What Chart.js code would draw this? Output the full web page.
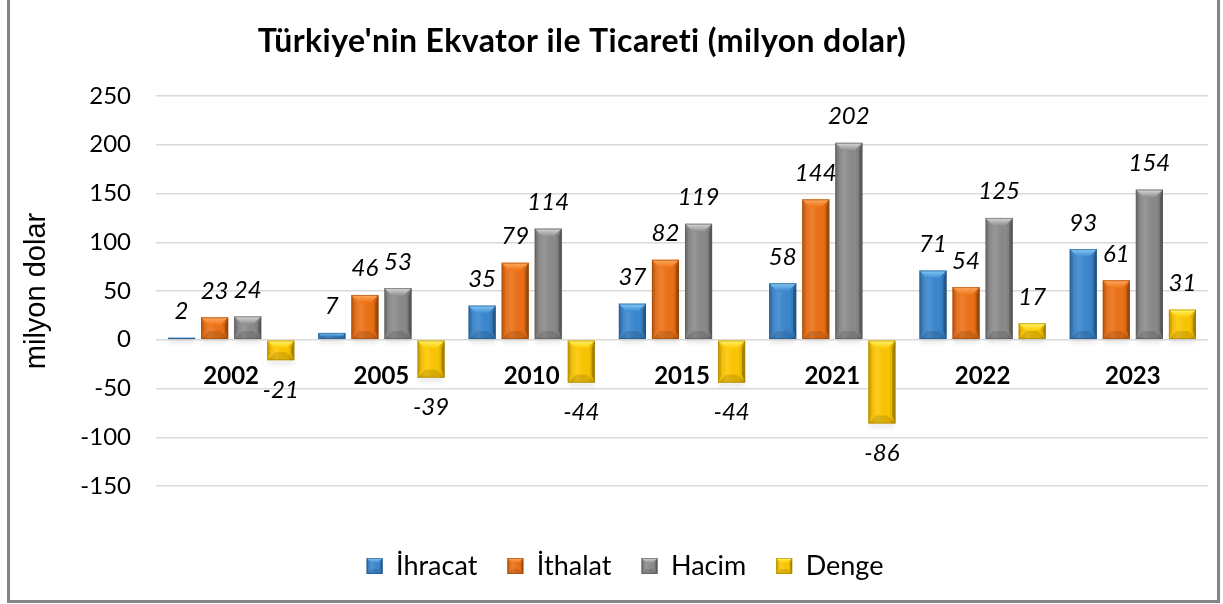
<!DOCTYPE html>
<html><head><meta charset="utf-8">
<script src="https://cdn.jsdelivr.net/npm/chart.js@4.4.1/dist/chart.umd.min.js"></script>
<style>
html,body{margin:0;padding:0;background:#fff;overflow:hidden;width:1223px;height:604px;}
#frame{position:absolute;left:7px;top:-4px;width:1213px;height:607px;box-sizing:border-box;border:3px solid #848484;background:#fff;}
#wrap{position:absolute;left:10px;top:0;width:1207px;height:600px;}
</style></head><body>
<div id="frame"></div>
<div id="wrap"><canvas id="c"></canvas></div>
<script>
const categories = ['2002', '2005', '2010', '2015', '2021', '2022', '2023'];
const ihracat = [2, 7, 35, 37, 58, 71, 93];
const ithalat = [23, 46, 79, 82, 144, 54, 61];
const hacim = [24, 53, 114, 119, 202, 125, 154];
const denge = [-21, -39, -44, -44, -86, 17, 31];
const seriesNames = ['İhracat', 'İthalat', 'Hacim', 'Denge'];
const yMin = -150, yMax = 250, yStep = 50;
const chartTitle = "Türkiye'nin Ekvator ile Ticareti (milyon dolar)";
const yTitle = 'milyon dolar';

const palette = [
  {base: '#3B88D0', light: '#86CCF6', dark: '#1F5486'},
  {base: '#EF7216', light: '#FFAA60', dark: '#9C4606'},
  {base: '#8C8C8C', light: '#DADADA', dark: '#555555'},
  {base: '#FFC800', light: '#FFF56A', dark: '#A88300'}
];
const seriesData = [ihracat, ithalat, hacim, denge];

function drawBevel(ctx, l, t, r, b, pal, maxBv) {
  const h = b - t;
  if (h < 0.5) return;
  const bv = Math.min(maxBv, h / 2, (r - l) / 2);
  ctx.save();
  const g = ctx.createLinearGradient(l, 0, r, 0);
  g.addColorStop(0, 'rgba(0,0,0,0.10)');
  g.addColorStop(0.35, 'rgba(255,255,255,0.10)');
  g.addColorStop(0.75, 'rgba(0,0,0,0.02)');
  g.addColorStop(1, 'rgba(0,0,0,0.22)');
  ctx.fillStyle = g;
  ctx.fillRect(l, t, r - l, h);
  const gt = ctx.createLinearGradient(0, t, 0, t + bv);
  gt.addColorStop(0, pal.light);
  gt.addColorStop(1, pal.base);
  ctx.fillStyle = gt;
  ctx.beginPath();
  ctx.moveTo(l, t); ctx.lineTo(r, t); ctx.lineTo(r - bv, t + bv); ctx.lineTo(l + bv, t + bv); ctx.closePath();
  ctx.fill();
  ctx.fillStyle = 'rgba(0,0,0,0.12)';
  ctx.beginPath();
  ctx.moveTo(l, b); ctx.lineTo(r, b); ctx.lineTo(r - bv, b - bv); ctx.lineTo(l + bv, b - bv); ctx.closePath();
  ctx.fill();
  ctx.fillStyle = 'rgba(0,0,0,0.10)';
  ctx.beginPath();
  ctx.moveTo(l, t); ctx.lineTo(l + bv * 0.4, t + bv); ctx.lineTo(l + bv * 0.4, b - bv); ctx.lineTo(l, b); ctx.closePath();
  ctx.fill();
  ctx.fillStyle = 'rgba(0,0,0,0.22)';
  ctx.beginPath();
  ctx.moveTo(r, t); ctx.lineTo(r - bv * 0.4, t + bv); ctx.lineTo(r - bv * 0.4, b - bv); ctx.lineTo(r, b); ctx.closePath();
  ctx.fill();
  ctx.strokeStyle = pal.dark;
  ctx.globalAlpha = 0.6;
  ctx.lineWidth = 1;
  ctx.strokeRect(l + 0.5, t + 0.5, r - l - 1, h - 1);
  ctx.restore();
}

const bevelPlugin = {
  id: 'bevel',
  afterDatasetsDraw(chart) {
    const ctx = chart.ctx;
    chart.data.datasets.forEach((ds, di) => {
      const meta = chart.getDatasetMeta(di);
      meta.data.forEach((el) => {
        const p = el.getProps(['x', 'y', 'base', 'width'], true);
        drawBevel(ctx, p.x - p.width / 2, Math.min(p.y, p.base), p.x + p.width / 2, Math.max(p.y, p.base), palette[di], 8);
      });
    });
  },
  afterDraw(chart) {
    const lg = chart.legend;
    if (!lg || !lg.legendHitBoxes) return;
    const o = lg.options.labels;
    const fs = o.font.size;
    lg.legendHitBoxes.forEach((hb, i) => {
      const t = hb.top + Math.max((fs - o.boxHeight) / 2, 0);
      drawBevel(chart.ctx, hb.left, t, hb.left + o.boxWidth, t + o.boxHeight, palette[i], 5);
    });
  }
};

const shadowPlugin = {
  id: 'barShadow',
  beforeDatasetsDraw(chart) {
    const ctx = chart.ctx;
    chart.data.datasets.forEach((ds, di) => {
      const meta = chart.getDatasetMeta(di);
      meta.data.forEach((el) => {
        const p = el.getProps(['x', 'y', 'base', 'width'], true);
        const b = Math.max(p.y, p.base);
        ctx.save();
        ctx.fillStyle = 'rgba(0,0,0,0.10)';
        ctx.filter = 'blur(2px)';
        ctx.fillRect(p.x - p.width / 2 + 1, b, p.width - 2, 4);
        ctx.restore();
      });
    });
  }
};

const valueLabelPlugin = {
  id: 'valueLabels',
  afterDatasetsDraw(chart) {
    const ctx = chart.ctx;
    ctx.save();
    ctx.font = 'italic 24px Lato';
    ctx.fillStyle = '#000';
    ctx.textAlign = 'center';
    ctx.textBaseline = 'alphabetic';
    chart.data.datasets.forEach((ds, di) => {
      const meta = chart.getDatasetMeta(di);
      meta.data.forEach((el, i) => {
        const v = ds.data[i];
        const p = el.getProps(['x', 'y', 'base'], true);
        const t = Math.min(p.y, p.base), b = Math.max(p.y, p.base);
        const yy = v >= 0 ? t - 18.5 : b + 37.5;
        ctx.fillText(String(v), p.x, yy);
      });
    });
    ctx.restore();
  }
};

const titlePlugin = {
  id: 'customTitle',
  afterDraw(chart) {
    const ctx = chart.ctx;
    ctx.save();
    ctx.font = 'bold 32px Lato';
    if ('letterSpacing' in ctx) ctx.letterSpacing = '0.4px';
    ctx.fillStyle = '#000';
    ctx.textAlign = 'center';
    ctx.textBaseline = 'middle';
    ctx.fillText(chartTitle, 572, 42);
    ctx.restore();
  }
};

new Chart(document.getElementById('c'), {
  type: 'bar',
  data: {
    labels: categories,
    datasets: seriesData.map((d, i) => ({
      label: seriesNames[i],
      data: d,
      backgroundColor: palette[i].base,
      borderWidth: 0,
      categoryPercentage: 0.88,
      barPercentage: 0.82
    }))
  },
  options: {
    responsive: true,
    maintainAspectRatio: false,
    animation: false,
    devicePixelRatio: 1,
    layout: {padding: {top: 96, left: 32, right: 9, bottom: 10.5}},
    plugins: {
      title: {display: false},
      tooltip: {enabled: false},
      legend: {
        display: true,
        position: 'bottom',
        align: 'center',
        title: {display: true, text: '', font: {size: 10, lineHeight: 1}, padding: {top: 26.5, bottom: 0}},
        labels: {
          boxWidth: 16, boxHeight: 16, padding: 30,
          font: {family: 'Lato', size: 27},
          color: '#000'
        }
      }
    },
    scales: {
      x: {
        type: 'category',
        position: {y: 0},
        grid: {display: false, drawTicks: false},
        border: {display: false},
        ticks: {font: {family: 'Lato', size: 24, weight: 'bold'}, color: '#000', padding: 22, maxRotation: 0}
      },
      y: {
        min: yMin, max: yMax,
        afterFit(scale) { scale.width = 114; },
        grid: {color: '#D9D9D9', lineWidth: 1.5, drawTicks: false},
        border: {display: false},
        ticks: {stepSize: yStep, font: {family: 'Lato', size: 24}, color: '#000', padding: 25},
        title: {display: true, text: yTitle, font: {family: 'Liberation Sans', size: 29}, color: '#000', padding: {top: -22.4, bottom: 0}}
      }
    }
  },
  plugins: [shadowPlugin, bevelPlugin, valueLabelPlugin, titlePlugin]
});
</script>
</body></html>
